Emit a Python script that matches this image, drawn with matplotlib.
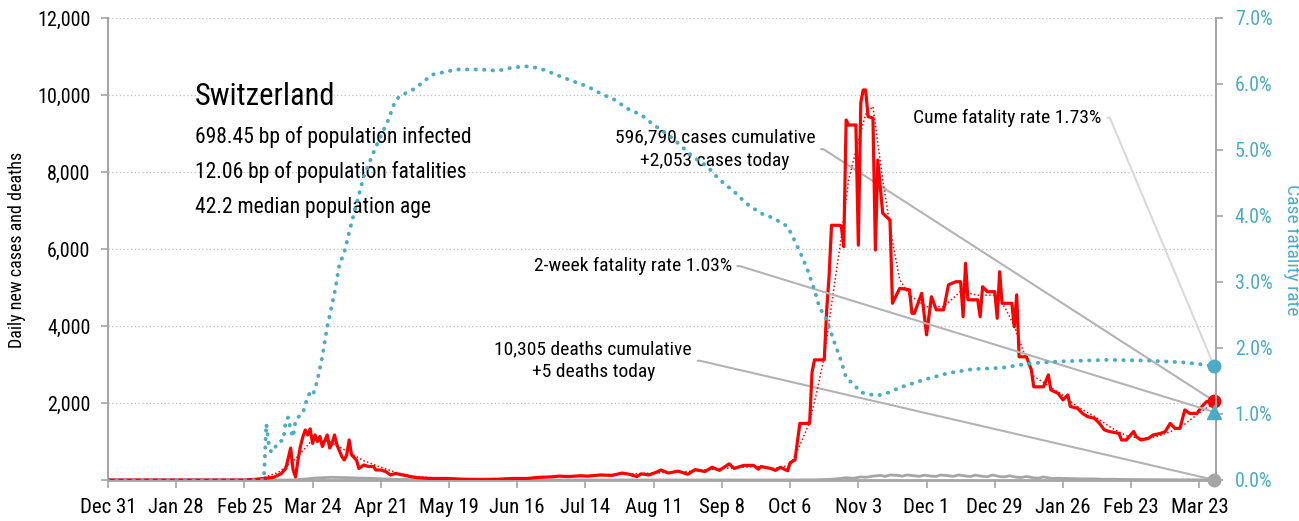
import matplotlib
matplotlib.use("Agg")
import matplotlib.pyplot as plt
import matplotlib.ticker as mticker
import pandas as pd

plt.rcParams['font.family'] = ['Liberation Sans Narrow', 'Roboto Condensed', 'DejaVu Sans']

START = pd.Timestamp('2019-12-31')

# daily new cases (day offset from Dec 31 2019, value)
case_days = [0, 56, 61, 64, 68, 71, 73, 74, 75, 76, 77, 78, 79, 80, 81, 82, 83, 84, 85, 86,
             87, 88, 90, 91, 92, 93, 94, 96, 97, 98, 99, 100, 102, 103, 105, 107, 109, 110,
             112, 114, 116, 118, 121, 124, 127, 132, 139, 146, 153, 160, 166, 172, 177, 182,
             185, 189, 194, 197, 202, 207, 211, 214, 217, 219, 222, 225, 227, 230, 234, 238,
             241, 245, 248, 251, 255, 257, 261, 265, 267, 268, 272, 274, 276, 279, 280, 282,
             283, 284, 288, 289, 290, 294, 295, 296, 297, 300, 301, 302, 303, 304, 307, 308,
             309, 310, 311, 312, 314, 315, 316, 318, 321, 322, 325, 329, 330, 331, 334, 336,
             338, 340, 343, 345, 348, 350, 351, 352, 353, 357, 358, 359, 361, 364, 365, 366,
             367, 371, 372, 373, 374, 377, 379, 380, 384, 386, 387, 390, 392, 394, 395, 398,
             400, 402, 405, 407, 409, 411, 415, 416, 418, 421, 422, 424, 427, 429, 432, 434,
             436, 438, 440, 442, 444, 447, 449, 451, 454]
case_values = [0, 0, 20, 40, 70, 160, 300, 560, 830, 260, 80, 520, 870, 1120, 1300, 1170, 1330,
               950, 1170, 1000, 1130, 870, 1170, 830, 950, 1170, 910, 610, 520, 650, 1040, 650,
               520, 300, 390, 350, 350, 260, 260, 220, 130, 170, 130, 90, 60, 40, 40, 20, 15,
               20, 40, 40, 70, 80, 100, 90, 110, 100, 130, 120, 180, 150, 90, 160, 130, 200,
               260, 180, 230, 150, 270, 220, 330, 250, 420, 300, 380, 380, 280, 350, 300, 250,
               330, 240, 450, 520, 1000, 1470, 1470, 2800, 3120, 3120, 4400, 5300, 6616, 6616,
               6600, 6060, 9350, 9220, 9220, 6100, 9800, 10130, 10130, 9440, 9400, 5975, 8310,
               6930, 6750, 4590, 4980, 4940, 4330, 4330, 4850, 3770, 4760, 4420, 4420, 5070,
               5150, 5150, 4240, 5630, 4680, 4680, 4240, 5020, 4890, 4890, 4200, 5410, 4590,
               4590, 3980, 4810, 3200, 3200, 2860, 2420, 2420, 2730, 2340, 2250, 2080, 2210,
               1910, 1860, 1730, 1650, 1600, 1470, 1300, 1260, 1210, 1040, 1040, 1260, 1130,
               1040, 1080, 1170, 1210, 1260, 1470, 1340, 1340, 1820, 1730, 1730, 1910, 2040,
               2053]

# 7-day average of cases
avg_days = [0, 56, 63, 70, 77, 84, 91, 98, 105, 112, 119, 126, 140, 154, 168, 182, 196, 210,
            224, 238, 252, 266, 273, 280, 284, 288, 291, 294, 298, 301, 304, 308, 311, 314, 318,
            322, 325, 329, 336, 343, 350, 357, 364, 368, 372, 376, 380, 386, 392, 398, 405, 412,
            418, 424, 430, 436, 442, 448, 454]
avg_values = [0, 0, 40, 200, 550, 1050, 1000, 750, 500, 330, 180, 90, 35, 20, 35, 90, 110, 150,
              180, 220, 300, 350, 300, 380, 900, 1500, 2300, 3200, 5000, 6300, 7800, 8800, 9500,
              9700, 7800, 6200, 5200, 4800, 4500, 4500, 4900, 4800, 4800, 4500, 4000, 3300, 2700,
              2450, 2200, 1900, 1650, 1350, 1150, 1080, 1120, 1250, 1450, 1750, 2000]

# daily new deaths
death_days = [0, 75, 78, 82, 85, 88, 92, 95, 99, 103, 107, 111, 115, 120, 126, 135, 150, 200,
              250, 280, 290, 294, 297, 300, 303, 306, 309, 311, 314, 317, 319, 321, 324, 326,
              328, 331, 333, 335, 338, 340, 342, 345, 347, 349, 352, 354, 356, 359, 361, 363,
              366, 368, 370, 373, 375, 377, 380, 382, 384, 387, 391, 393, 396, 400, 404, 408,
              412, 416, 422, 430, 440, 454]
death_values = [0, 0, 10, 30, 50, 60, 70, 65, 60, 50, 45, 35, 25, 15, 8, 3, 1, 1, 1, 2, 5, 12,
                20, 35, 60, 45, 80, 70, 100, 120, 95, 130, 120, 100, 130, 110, 95, 125, 100, 95,
                130, 110, 95, 130, 105, 90, 125, 95, 85, 130, 90, 80, 110, 70, 65, 90, 55, 50,
                80, 45, 45, 40, 35, 30, 30, 20, 20, 15, 12, 8, 5, 5]

# cumulative case fatality rate, %
cfr_days = [0, 64, 65, 66, 67, 68, 69, 70, 72, 73, 74, 75, 76, 77, 78, 80, 81, 82, 83, 84, 85,
            86, 88, 90, 93, 95, 97, 100, 105, 110, 115, 118, 120, 126, 133, 143, 153, 160, 165,
            171, 177, 182, 186, 191, 197, 202, 208, 213, 219, 224, 230, 235, 240, 246, 251, 257,
            262, 268, 273, 279, 281, 284, 287, 290, 292, 295, 298, 301, 303, 306, 309, 312, 316,
            320, 325, 335, 345, 355, 367, 379, 393, 410, 427, 442, 454]
cfr_values = [0, 0, 0.85, 0.55, 0.42, 0.45, 0.52, 0.58, 0.6, 0.9, 0.95, 0.75, 0.65, 0.9, 0.95,
              1.01, 1.14, 1.27, 1.32, 1.28, 1.38, 1.52, 1.87, 2.32, 2.83, 3.26, 3.45, 3.9, 4.6,
              5.05, 5.45, 5.75, 5.82, 5.93, 6.14, 6.22, 6.22, 6.2, 6.24, 6.27, 6.24, 6.17, 6.11,
              6.04, 5.96, 5.86, 5.76, 5.63, 5.53, 5.38, 5.23, 5.07, 4.9, 4.75, 4.55, 4.37, 4.19,
              4.04, 3.97, 3.84, 3.69, 3.46, 3.2, 2.88, 2.62, 2.43, 2.1, 1.8, 1.55, 1.45, 1.33,
              1.3, 1.28, 1.32, 1.4, 1.52, 1.62, 1.68, 1.7, 1.77, 1.8, 1.82, 1.81, 1.78, 1.73]

two_week_rate = 1.03

tick_days = [0, 28, 56, 84, 112, 140, 168, 196, 224, 252, 280, 308, 336, 364, 392, 420, 448]
tick_labels = ['Dec 31', 'Jan 28', 'Feb 25', 'Mar 24', 'Apr 21', 'May 19', 'Jun 16', 'Jul 14',
               'Aug 11', 'Sep 8', 'Oct 6', 'Nov 3', 'Dec 1', 'Dec 29', 'Jan 26', 'Feb 23',
               'Mar 23']

RED = '#ff0000'
TEAL = '#4bacc6'
GRAY = '#a6a6a6'


def to_dates(days):
    return START + pd.to_timedelta(days, unit='D')


case_dates = to_dates(case_days)
death_dates = to_dates(death_days)
cfr_dates = to_dates(cfr_days)

fig = plt.figure(figsize=(12.99, 5.21), dpi=100)
ax = fig.add_axes([0.0831, 0.0787, 0.853, 0.8868])
ax2 = ax.twinx()

# left axis: cases and deaths
ax.plot(case_dates, case_values, color=RED, lw=2.3, zorder=4)
ax.plot(to_dates(avg_days), avg_values, color=RED, lw=1.1, linestyle=(0, (1, 1.5)), zorder=4)
ax.plot(death_dates, death_values, color=GRAY, lw=2, zorder=3)
ax.plot(case_dates[-1], case_values[-1], 'o', color=RED, ms=9, zorder=6, clip_on=False)
ax.plot(death_dates[-1], death_values[-1], 'o', color=GRAY, ms=9, zorder=6, clip_on=False)

ax.set_ylim(0, 12000)
ax.set_xlim(START, to_dates(454.8))
ax.set_yticks(range(0, 12001, 2000))
ax.yaxis.set_major_formatter(mticker.FuncFormatter(lambda v, p: '' if v == 0 else f'{v:,.0f}'))
ax.set_xticks(to_dates(tick_days))
ax.set_xticklabels(tick_labels)
ax.yaxis.grid(True, linestyle=(0, (1, 2)), color='#bfbfbf', lw=0.9)
ax.set_axisbelow(True)

for side in ['top', 'right']:
    ax.spines[side].set_visible(False)
ax.spines['left'].set_color(GRAY)
ax.spines['left'].set_linewidth(1.5)
ax.spines['bottom'].set_color(GRAY)
ax.spines['bottom'].set_linewidth(2)
ax.tick_params(axis='y', length=5, width=1.2, color=GRAY, labelsize=14.5, pad=7.5)
ax.tick_params(axis='x', length=6, width=1.2, color=GRAY, labelsize=15, pad=7)

# right axis: case fatality rate
ax2.plot(cfr_dates, cfr_values, color=TEAL, lw=2.8, linestyle=(0, (0.1, 2.1)),
         dash_capstyle='round', zorder=5)
ax2.plot(cfr_dates[-1], cfr_values[-1], 'o', color=TEAL, ms=9, zorder=6, clip_on=False)
ax2.plot(cfr_dates[-1], two_week_rate, '^', color=TEAL, ms=10, zorder=6, clip_on=False)
ax2.set_ylim(0, 7)
ax2.set_yticks(range(0, 8))
ax2.yaxis.set_major_formatter(mticker.FuncFormatter(lambda v, p: f'{v:.1f}%'))
for side in ['top', 'left', 'bottom']:
    ax2.spines[side].set_visible(False)
ax2.spines['right'].set_color(GRAY)
ax2.spines['right'].set_linewidth(1.5)
ax2.tick_params(axis='y', length=5, width=1.2, color=GRAY, labelcolor=TEAL, labelsize=14.5,
                pad=8.5)

fig.text(17 / 1299, 1 - 250 / 521, 'Daily new cases and deaths', rotation=90,
         ha='center', va='center', fontsize=13)
fig.text(1292 / 1299, 1 - 250 / 521, 'Case fatality rate', rotation=-90,
         ha='center', va='center', fontsize=14, color=TEAL)

# country summary
ax.text(0.0785, 0.829, 'Switzerland', transform=ax.transAxes, fontsize=22, va='center')
summary = ['698.45 bp of population infected', '12.06 bp of population fatalities',
           '42.2 median population age']
for i, line in enumerate(summary):
    ax.text(0.0785, 0.742 - i * 0.0757, line, transform=ax.transAxes, fontsize=15.5,
            va='center')

# callouts
conn = 'arc,angleA=0,armA=8,angleB=0,armB=0,rad=0'
ax.annotate('596,790 cases cumulative\n+2,053 cases today', xy=(case_dates[-1], case_values[-1]),
            xytext=(0.548, 0.716), textcoords='axes fraction', ha='center', va='center',
            fontsize=14, linespacing=1.35,
            arrowprops=dict(arrowstyle='-', color='#b3b3b3', lw=1.5, relpos=(1, 0.5),
                            connectionstyle=conn, shrinkA=2, shrinkB=0))
ax.annotate('10,305 deaths cumulative\n+5 deaths today', xy=(death_dates[-1], death_values[-1]),
            xytext=(0.438, 0.258), textcoords='axes fraction', ha='center', va='center',
            fontsize=14, linespacing=1.35,
            arrowprops=dict(arrowstyle='-', color='#b3b3b3', lw=1.5, relpos=(1, 0.5),
                            connectionstyle=conn, shrinkA=2, shrinkB=0))
ax2.annotate('2-week fatality rate 1.03%', xy=(cfr_dates[-1], two_week_rate),
             xytext=(0.563, 0.463), textcoords='axes fraction', ha='right', va='center',
             fontsize=14,
             arrowprops=dict(arrowstyle='-', color='#b3b3b3', lw=1.5, relpos=(1, 0.5),
                             connectionstyle=conn, shrinkA=2, shrinkB=0))
ax2.annotate('Cume fatality rate 1.73%', xy=(cfr_dates[-1], cfr_values[-1]),
             xytext=(0.897, 0.784), textcoords='axes fraction', ha='right', va='center',
             fontsize=14,
             arrowprops=dict(arrowstyle='-', color='#d9d9d9', lw=1.5, relpos=(1, 0.5),
                             connectionstyle=conn, shrinkA=2, shrinkB=0))

fig.savefig('out.png', dpi=100)
